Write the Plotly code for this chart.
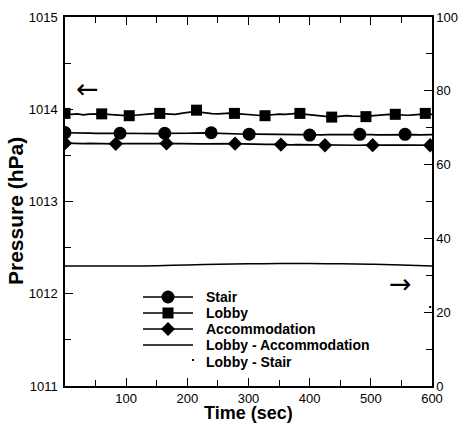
import plotly.graph_objects as go

# ---------------- data ----------------
t_line = list(range(0, 601, 10))

lobby_line = [1013.955, 1013.945, 1013.950, 1013.940, 1013.948, 1013.952, 1013.950, 1013.945, 1013.938, 1013.935,
              1013.930, 1013.932, 1013.940, 1013.945, 1013.950, 1013.955, 1013.953, 1013.948, 1013.945, 1013.955,
              1013.962, 1013.975, 1013.968, 1013.958, 1013.952, 1013.950, 1013.955, 1013.958, 1013.952, 1013.945,
              1013.940, 1013.935, 1013.932, 1013.935, 1013.942, 1013.948, 1013.945, 1013.950, 1013.955, 1013.948,
              1013.940, 1013.935, 1013.928, 1013.920, 1013.918, 1013.925, 1013.930, 1013.925, 1013.920, 1013.922,
              1013.928, 1013.935, 1013.940, 1013.945, 1013.942, 1013.938, 1013.935, 1013.940, 1013.948, 1013.950,
              1013.945]

stair_line = [1013.745, 1013.742, 1013.740, 1013.738, 1013.741, 1013.739, 1013.736, 1013.738, 1013.740, 1013.739,
              1013.737, 1013.735, 1013.738, 1013.740, 1013.737, 1013.736, 1013.739, 1013.738, 1013.735, 1013.737,
              1013.740, 1013.742, 1013.745, 1013.744, 1013.741, 1013.738, 1013.735, 1013.733, 1013.731, 1013.730,
              1013.729, 1013.731, 1013.730, 1013.727, 1013.725, 1013.726, 1013.728, 1013.725, 1013.722, 1013.720,
              1013.719, 1013.721, 1013.723, 1013.725, 1013.726, 1013.724, 1013.725, 1013.727, 1013.729, 1013.727,
              1013.725, 1013.723, 1013.724, 1013.726, 1013.728, 1013.729, 1013.727, 1013.725, 1013.723, 1013.722,
              1013.724]

accom_line = [1013.632, 1013.628, 1013.630, 1013.627, 1013.629, 1013.626, 1013.628, 1013.625, 1013.624, 1013.627,
              1013.626, 1013.624, 1013.625, 1013.627, 1013.626, 1013.628, 1013.630, 1013.628, 1013.626, 1013.625,
              1013.627, 1013.626, 1013.624, 1013.625, 1013.627, 1013.626, 1013.624, 1013.625, 1013.627, 1013.625,
              1013.622, 1013.620, 1013.618, 1013.619, 1013.620, 1013.617, 1013.615, 1013.614, 1013.616, 1013.615,
              1013.613, 1013.612, 1013.610, 1013.609, 1013.611, 1013.612, 1013.611, 1013.609, 1013.610, 1013.612,
              1013.611, 1013.610, 1013.612, 1013.613, 1013.612, 1013.610, 1013.611, 1013.612, 1013.611, 1013.609,
              1013.610]

stair_mk_t = [0, 90, 163, 239, 301, 400, 482, 556]
stair_mk_p = [1013.747, 1013.740, 1013.740, 1013.745, 1013.730, 1013.720, 1013.728, 1013.728]

lobby_mk_t = [0, 60, 105, 155, 215, 277, 327, 384, 436, 492, 540, 589]
lobby_mk_p = [1013.955, 1013.950, 1013.930, 1013.955, 1013.990, 1013.955, 1013.930, 1013.955, 1013.915, 1013.920,
              1013.945, 1013.955]

accom_mk_t = [0, 83, 166, 278, 353, 425, 503, 597]
accom_mk_p = [1013.632, 1013.625, 1013.630, 1013.627, 1013.617, 1013.610, 1013.611, 1013.610]

diff_la_t = [0, 50, 100, 150, 200, 250, 300, 350, 400, 450, 500, 550, 600]
diff_la_v = [32.5, 32.5, 32.5, 32.6, 32.8, 33.0, 33.1, 33.2, 33.2, 33.1, 33.0, 32.8, 32.5]

diff_ls_t = [597]
diff_ls_v = [21.4]

x_ticks = [100, 200, 300, 400, 500, 600]
y_ticks = [1011, 1012, 1013, 1014, 1015]
y2_ticks = [0, 20, 40, 60, 80, 100]

legend_names = ["Stair", "Lobby", "Accommodation", "Lobby - Accommodation", "Lobby - Stair"]
legend_symbols = ["circle", "square", "diamond", "line", "dot"]

# ---------------- figure ----------------
FONT = "Arial, 'Liberation Sans', sans-serif"
BLK = "black"
W, H = 463, 424
ML, MR, MT, MB = 65, 31, 17, 38
PW, PH = W - ML - MR, H - MT - MB


def px_x(p):
    return (p - ML) / PW


def px_y(p):
    return (H - MB - p) / PH


fig = go.Figure()

for yv in (lobby_line, stair_line, accom_line):
    fig.add_trace(go.Scatter(x=t_line, y=yv, mode="lines", line=dict(color=BLK, width=1.7),
                             showlegend=False, hoverinfo="skip"))

fig.add_trace(go.Scatter(x=stair_mk_t, y=stair_mk_p, mode="markers", showlegend=False, name="Stair",
                         marker=dict(symbol="circle", size=13, color=BLK)))
fig.add_trace(go.Scatter(x=lobby_mk_t, y=lobby_mk_p, mode="markers", showlegend=False, name="Lobby",
                         marker=dict(symbol="square", size=11, color=BLK)))
fig.add_trace(go.Scatter(x=accom_mk_t, y=accom_mk_p, mode="markers", showlegend=False, name="Accommodation",
                         marker=dict(symbol="diamond", size=11, color=BLK)))

fig.add_trace(go.Scatter(x=diff_la_t, y=diff_la_v, mode="lines", yaxis="y2", showlegend=False,
                         name="Lobby - Accommodation", line=dict(color=BLK, width=1.5, shape="spline")))
fig.add_trace(go.Scatter(x=diff_ls_t, y=diff_ls_v, mode="markers", yaxis="y2", showlegend=False,
                         name="Lobby - Stair", marker=dict(symbol="square", size=2, color=BLK)))

# ----- hand-built legend (layout only) -----
rows_y = [297, 313, 329, 345, 362]
lx0, lx1, lxm, ltext = 143, 193, 168, 204
for name, sym, ry in zip(legend_names, legend_symbols, rows_y):
    yy = px_y(ry)
    if sym != "dot":
        fig.add_shape(type="line", xref="paper", yref="paper", x0=px_x(lx0), x1=px_x(lx1), y0=yy, y1=yy,
                      line=dict(color=BLK, width=1.5))
    if sym == "circle":
        r = 6.5
        fig.add_shape(type="circle", xref="paper", yref="paper", x0=px_x(lxm - r), x1=px_x(lxm + r),
                      y0=px_y(ry + r), y1=px_y(ry - r), fillcolor=BLK, line=dict(color=BLK, width=0))
    elif sym == "square":
        r = 5.5
        fig.add_shape(type="rect", xref="paper", yref="paper", x0=px_x(lxm - r), x1=px_x(lxm + r),
                      y0=px_y(ry + r), y1=px_y(ry - r), fillcolor=BLK, line=dict(color=BLK, width=0))
    elif sym == "diamond":
        r = 7
        path = "M {a},{b} L {c},{d} L {a},{e} L {f},{d} Z".format(
            a=px_x(lxm), b=px_y(ry - r), c=px_x(lxm + r), d=yy, e=px_y(ry + r), f=px_x(lxm - r))
        fig.add_shape(type="path", xref="paper", yref="paper", path=path, fillcolor=BLK,
                      line=dict(color=BLK, width=0))
    elif sym == "dot":
        fig.add_shape(type="rect", xref="paper", yref="paper", x0=px_x(192), x1=px_x(194),
                      y0=px_y(ry - 1), y1=px_y(ry - 3), fillcolor=BLK, line=dict(color=BLK, width=0))
    fig.add_annotation(x=px_x(ltext), y=yy, xref="paper", yref="paper", xanchor="left", yanchor="middle",
                       text="<b>" + name + "</b>", showarrow=False,
                       font=dict(family=FONT, size=14, color=BLK))

# axis-pointer arrows
fig.add_annotation(x=37, y=1014.22, xref="x", yref="y", text="←", showarrow=False,
                   font=dict(family="DejaVu Sans", size=27, color=BLK))
fig.add_annotation(x=548, y=27.9, xref="x", yref="y2", text="→", showarrow=False,
                   font=dict(family="DejaVu Sans", size=27, color=BLK))

# axis titles
fig.add_annotation(x=px_x(15), y=px_y(211), xref="paper", yref="paper", text="<b>Pressure (hPa)</b>",
                   textangle=-90, showarrow=False, xanchor="center", yanchor="middle",
                   font=dict(family=FONT, size=21, color=BLK))
fig.add_annotation(x=px_x(248), y=px_y(413), xref="paper", yref="paper", text="<b>Time (sec)</b>",
                   showarrow=False, xanchor="center", yanchor="middle",
                   font=dict(family=FONT, size=18, color=BLK))

axis_common = dict(showgrid=False, zeroline=False, showline=True, linecolor=BLK, linewidth=1.5,
                   ticks="inside", tickcolor=BLK, tickwidth=1, ticklen=8, automargin=False,
                   tickfont=dict(family=FONT, size=13, color=BLK))

fig.update_layout(
    width=W, height=H,
    margin=dict(l=ML, r=MR, t=MT, b=MB, autoexpand=False),
    paper_bgcolor="white", plot_bgcolor="white",
    font=dict(family=FONT, color=BLK),
    showlegend=False,
    xaxis=dict(range=[0, 600], tickmode="array", tickvals=x_ticks, mirror="ticks",
               minor=dict(tickmode="array", tickvals=[50, 150, 250, 350, 450, 550], ticks="inside",
                          ticklen=6, tickcolor=BLK),
               **axis_common),
    yaxis=dict(range=[1011, 1015], tickmode="array", tickvals=y_ticks, ticklabelstandoff=3,
               minor=dict(tickmode="array", tickvals=[1011.5, 1012.5, 1013.5, 1014.5], ticks="inside",
                          ticklen=6, tickcolor=BLK),
               **axis_common),
    yaxis2=dict(range=[0, 100], overlaying="y", side="right", tickmode="array", tickvals=y2_ticks,
                minor=dict(tickmode="array", tickvals=[10, 30, 50, 70, 90], ticks="inside",
                           ticklen=6, tickcolor=BLK),
                **axis_common),
)

fig.write_html("out.html", config={"displayModeBar": False},
               post_script="document.body.style.margin='0';document.body.style.overflow='hidden';")
